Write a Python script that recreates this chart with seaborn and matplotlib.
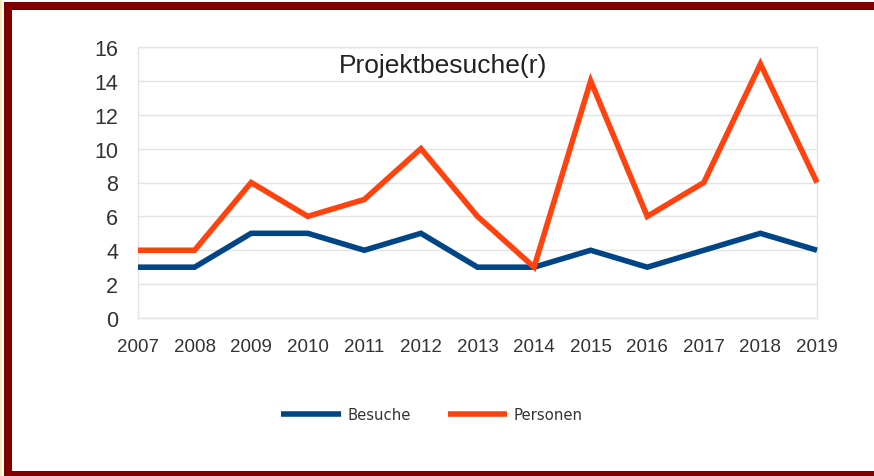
import matplotlib
matplotlib.use("Agg")
import matplotlib.pyplot as plt
import seaborn as sns
import pandas as pd
from matplotlib.patches import Rectangle

years = [2007, 2008, 2009, 2010, 2011, 2012, 2013, 2014, 2015, 2016, 2017, 2018, 2019]
besuche = [3, 3, 5, 5, 4, 5, 3, 3, 4, 3, 4, 5, 4]
personen = [4, 4, 8, 6, 7, 10, 6, 3, 14, 6, 8, 15, 8]
series_names = ["Besuche", "Personen"]
colors = ["#004586", "#ff420e"]
y_ticks = [0, 2, 4, 6, 8, 10, 12, 14, 16]
title = "Projektbesuche(r)"

df = pd.DataFrame({
    "Jahr": years * 2,
    "Wert": besuche + personen,
    "Serie": [series_names[0]] * len(years) + [series_names[1]] * len(years),
})

sns.set_theme(style="white")
plt.rcParams["font.family"] = ["Liberation Sans", "DejaVu Sans"]

W, H = 874, 477
fig = plt.figure(figsize=(W / 100, H / 100), dpi=100)
fig.patch.set_facecolor("#fbe9b8")

def px(x0, y0, w, h, z, **kw):
    fig.patches.append(Rectangle((x0 / W, 1 - (y0 + h) / H), w / W, h / H,
                                 transform=fig.transFigure, zorder=z, **kw))

px(2, 1, W, H, -30, facecolor="#ffffff", edgecolor="none")
px(4, 3, W, H, -20, facecolor="#800000", edgecolor="none")
px(12, 11, W, 461, -10, facecolor="#ffffff", edgecolor="none")

left, right, top, bottom = 138, 817, 48, 319
ax = fig.add_axes([left / W, 1 - bottom / H, (right - left) / W, (bottom - top) / H])
ax.set_facecolor("none")

sns.lineplot(data=df, x="Jahr", y="Wert", hue="Serie", palette=colors,
             linewidth=4.0, ax=ax, legend=True)
for ln in ax.lines:
    ln.set_clip_on(False)
    ln.set_solid_joinstyle("miter")
    ln.set_solid_capstyle("butt")

ax.set_xlim(years[0], years[-1])
ax.set_ylim(0, 16)
ax.set_xticks(years)
ax.set_yticks(y_ticks)
ax.set_xlabel("")
ax.set_ylabel("")
grid_c = "#e3e3e3"
ax.set_axisbelow(True)
ax.yaxis.grid(True, color=grid_c, linewidth=1)
ax.xaxis.grid(False)
for s in ax.spines.values():
    s.set_color(grid_c)
    s.set_linewidth(1)
    s.set_zorder(0.5)
ax.tick_params(axis="both", which="major", length=7.2, width=1, color=grid_c,
               labelcolor="#333333", pad=7)
ax.tick_params(axis="y", labelsize=15.5)
ax.tick_params(axis="x", labelsize=13.5)

handles, labels = ax.get_legend_handles_labels()
ax.get_legend().remove()
leg = fig.legend(handles, labels, loc="center", bbox_to_anchor=(432 / W, 1 - 416 / H),
                 ncol=2, frameon=False, handlelength=4.0, handletextpad=0.45,
                 columnspacing=2.5, prop={"family": "DejaVu Sans", "size": 10.7})
for t in leg.get_texts():
    t.set_color("#333333")
for h in leg.get_lines():
    h.set_linewidth(4.0)
    h.set_solid_capstyle("butt")

fig.text(443 / W, 1 - 66 / H, title, ha="center", va="center", fontsize=19,
         color="#222222")

fig.savefig("out.png", dpi=100, facecolor=fig.get_facecolor())
